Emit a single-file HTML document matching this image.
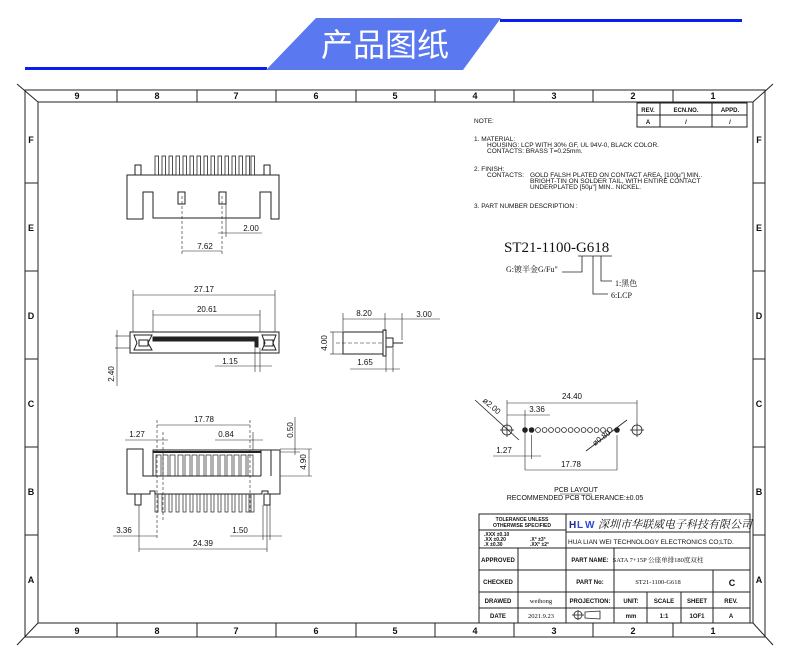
<!DOCTYPE html>
<html><head><meta charset="utf-8"><style>
html,body{margin:0;padding:0;background:#fff;}
svg{display:block;}
text{font-family:"Liberation Sans","Noto Sans CJK SC",sans-serif;fill:#111;}
.s{font-family:"Liberation Serif","Noto Serif CJK SC",serif;}
</style></head><body>
<svg width="790" height="663" viewBox="0 0 790 663" xmlns="http://www.w3.org/2000/svg">
<!-- header -->
<rect x="25" y="67" width="242" height="3" fill="#0a1ef0"/>
<rect x="500" y="19" width="242" height="3" fill="#0a1ef0"/>
<polygon points="316,18 501,18 463,70 266,70" fill="#5a78f0"/>
<text x="385" y="56" font-size="32" style="fill:#fff" text-anchor="middle" font-family="Noto Sans CJK SC,sans-serif">产品图纸</text>

<g stroke="#222" fill="none" stroke-width="1">
<rect x="25" y="90" width="740" height="547"/>
<rect x="38" y="102" width="715" height="521"/>
<line x1="17" y1="84" x2="38" y2="102"/><line x1="773" y1="84" x2="753" y2="102"/>
<line x1="17" y1="645" x2="38" y2="623"/><line x1="773" y1="645" x2="753" y2="623"/>
<g>
<line x1="117" y1="90" x2="117" y2="102"/><line x1="197" y1="90" x2="197" y2="102"/><line x1="276" y1="90" x2="276" y2="102"/><line x1="356" y1="90" x2="356" y2="102"/><line x1="435" y1="90" x2="435" y2="102"/><line x1="514" y1="90" x2="514" y2="102"/><line x1="593" y1="90" x2="593" y2="102"/><line x1="673" y1="90" x2="673" y2="102"/>
<line x1="117" y1="623" x2="117" y2="637"/><line x1="197" y1="623" x2="197" y2="637"/><line x1="276" y1="623" x2="276" y2="637"/><line x1="356" y1="623" x2="356" y2="637"/><line x1="435" y1="623" x2="435" y2="637"/><line x1="514" y1="623" x2="514" y2="637"/><line x1="593" y1="623" x2="593" y2="637"/><line x1="673" y1="623" x2="673" y2="637"/>
<line x1="25" y1="183" x2="38" y2="183"/><line x1="25" y1="271" x2="38" y2="271"/><line x1="25" y1="359" x2="38" y2="359"/><line x1="25" y1="447" x2="38" y2="447"/><line x1="25" y1="535" x2="38" y2="535"/>
<line x1="753" y1="183" x2="765" y2="183"/><line x1="753" y1="271" x2="765" y2="271"/><line x1="753" y1="359" x2="765" y2="359"/><line x1="753" y1="447" x2="765" y2="447"/><line x1="753" y1="535" x2="765" y2="535"/>
</g>
<rect x="637" y="103" width="110" height="24"/>
<line x1="637" y1="115" x2="747" y2="115"/><line x1="660" y1="103" x2="660" y2="127"/><line x1="712" y1="103" x2="712" y2="127"/>
<rect x="479" y="514" width="271" height="109"/>
<line x1="479" y1="530" x2="566" y2="530"/>
<line x1="479" y1="548" x2="750" y2="548"/>
<line x1="566" y1="532" x2="750" y2="532"/>
<line x1="479" y1="570" x2="750" y2="570"/>
<line x1="479" y1="592" x2="750" y2="592"/>
<line x1="479" y1="608" x2="750" y2="608"/>
<line x1="566" y1="514" x2="566" y2="623"/>
<line x1="518" y1="548" x2="518" y2="623"/>
<line x1="614" y1="548" x2="614" y2="623"/>
<line x1="647" y1="592" x2="647" y2="623"/>
<line x1="681" y1="592" x2="681" y2="623"/>
<line x1="713" y1="570" x2="713" y2="623"/>
</g>

<g font-size="9" font-weight="bold" text-anchor="middle">
<text x="77" y="99">9</text><text x="157" y="99">8</text><text x="236" y="99">7</text><text x="316" y="99">6</text><text x="395" y="99">5</text><text x="475" y="99">4</text><text x="554" y="99">3</text><text x="633" y="99">2</text><text x="713" y="99">1</text>
<text x="77" y="634">9</text><text x="157" y="634">8</text><text x="236" y="634">7</text><text x="316" y="634">6</text><text x="395" y="634">5</text><text x="475" y="634">4</text><text x="554" y="634">3</text><text x="633" y="634">2</text><text x="713" y="634">1</text>
<text x="31" y="143">F</text><text x="31" y="231">E</text><text x="31" y="319">D</text><text x="31" y="407">C</text><text x="31" y="495">B</text><text x="31" y="583">A</text>
<text x="759" y="143">F</text><text x="759" y="231">E</text><text x="759" y="319">D</text><text x="759" y="407">C</text><text x="759" y="495">B</text><text x="759" y="583">A</text>
</g>
<g font-size="6" font-weight="bold" text-anchor="middle">
<text x="648" y="112">REV.</text><text x="686" y="112">ECN.NO.</text><text x="730" y="112">APPD.</text>
<text x="648" y="124">A</text><text x="686" y="124">/</text><text x="730" y="124">/</text>
</g>

<g font-size="6.5">
<text x="474" y="123">NOTE:</text>
<text x="474" y="141">1. MATERIAL:</text>
<text x="487" y="147">HOUSING: LCP WITH 30% GF, UL 94V-0, BLACK COLOR.</text>
<text x="487" y="153">CONTACTS: BRASS T=0.25mm.</text>
<text x="474" y="171">2. FINISH:</text>
<text x="487" y="177">CONTACTS:</text>
<text x="530" y="177">GOLD FALSH PLATED ON CONTACT AREA, [100μ"] MIN..</text>
<text x="530" y="183">BRIGHT-TIN ON SOLDER TAIL, WITH ENTIRE CONTACT</text>
<text x="530" y="189">UNDERPLATED [50μ"] MIN.. NICKEL.</text>
<text x="474" y="208">3. PART NUMBER DESCRIPTION :</text>
</g>
<text x="504" y="252" class="s" font-size="15">ST21-1100-G618</text>
<text x="506" y="272" class="s" font-size="8">G:镀半金G/Fu"</text>
<text x="615" y="286" class="s" font-size="8">1:黑色</text>
<text x="611" y="298" class="s" font-size="8">6:LCP</text>
<g stroke="#222" fill="none" stroke-width="0.8">
<polyline points="562,272 582,272 582,256"/>
<polyline points="593,256 593,294 608,294"/>
<polyline points="601,256 601,281 612,281"/>
<line x1="578" y1="256" x2="612" y2="256"/>
</g>

<g font-size="5" font-weight="bold" text-anchor="middle">
<text x="522" y="521">TOLERANCE UNLESS</text><text x="522" y="527">OTHERWISE SPECIFIED</text>
</g>
<g font-size="5" font-weight="bold">
<text x="484" y="536">.XXX ±0.10</text><text x="484" y="541">.XX  ±0.20</text><text x="484" y="546">.X   ±0.30</text>
<text x="530" y="541">.X°  ±3°</text><text x="530" y="546">.XX° ±2°</text>
</g>
<text x="569" y="528" font-size="10" font-weight="bold" style="fill:#1e2a90">H</text>
<text x="577" y="528" font-size="10" font-weight="bold" style="fill:#2a4ad8">L</text>
<text x="585" y="528" font-size="10" font-weight="bold" style="fill:#2a4ad8">W</text>
<text x="598" y="528" font-size="11" class="s" font-style="italic">深圳市华联威电子科技有限公司</text>
<text x="568" y="544" font-size="6.5">HUA LIAN WEI TECHNOLOGY ELECTRONICS CO;LTD.</text>
<g font-size="6" font-weight="bold" text-anchor="middle">
<text x="498" y="562">APPROVED</text>
<text x="498" y="584">CHECKED</text>
<text x="498" y="603">DRAWED</text>
<text x="498" y="618">DATE</text>
<text x="590" y="562">PART NAME:</text>
<text x="590" y="584">PART No:</text>
<text x="590" y="603">PROJECTION:</text>
<text x="631" y="603">UNIT:</text><text x="664" y="603">SCALE</text><text x="697" y="603">SHEET</text><text x="731" y="603">REV.</text>
<text x="631" y="618">mm</text><text x="664" y="618">1:1</text><text x="697" y="618">1OF1</text><text x="731" y="618">A</text>
</g>
<text x="732" y="586" font-size="9" font-weight="bold" text-anchor="middle">C</text>
<g class="s" font-size="6.5" text-anchor="middle">
<text x="658" y="562" class="s">SATA 7+15P 公座单排180度双柱</text>
<text x="658" y="584" class="s">ST21-1100-G618</text>
<text x="541" y="603" class="s">weihong</text>
<text x="541" y="618" class="s">2021.9.23</text>
</g>
<g stroke="#222" fill="none" stroke-width="0.8">
<circle cx="578" cy="615" r="4"/><line x1="572" y1="615" x2="584" y2="615"/><line x1="578" y1="610" x2="578" y2="620"/>
<polygon points="585,612 600,611 600,619 585,618"/>
</g>

<!-- TOP VIEW -->
<g stroke="#222" fill="none" stroke-width="1">
<path d="M127,175 H279 V219 H271 V192 H260 V218 H153 V192 H143 V219 H127 Z"/>
<rect x="135" y="165" width="6" height="10"/><rect x="264" y="165" width="6" height="10"/>
<rect x="178" y="192" width="7" height="12"/><rect x="219" y="192" width="7" height="12"/>
</g>
<g fill="#fff" stroke="#222" stroke-width="0.8">
<rect x="155" y="156" width="3.5" height="19"/><rect x="162" y="156" width="3.5" height="19"/><rect x="169" y="156" width="3.5" height="19"/><rect x="176" y="156" width="3.5" height="19"/><rect x="183" y="156" width="3.5" height="19"/><rect x="190" y="156" width="3.5" height="19"/><rect x="197" y="156" width="3.5" height="19"/><rect x="204" y="156" width="3.5" height="19"/><rect x="211" y="156" width="3.5" height="19"/><rect x="218" y="156" width="3.5" height="19"/><rect x="225" y="156" width="3.5" height="19"/><rect x="232" y="156" width="3.5" height="19"/><rect x="239" y="156" width="3.5" height="19"/><rect x="246" y="156" width="3.5" height="19"/><rect x="251" y="156" width="3.5" height="19"/>
</g>
<g stroke="#222" fill="none" stroke-width="0.6">
<line x1="182" y1="196" x2="182" y2="255" stroke-dasharray="3,2"/>
<line x1="222" y1="196" x2="222" y2="255" stroke-dasharray="3,2"/>
<line x1="226" y1="200" x2="226" y2="237"/>
<line x1="218" y1="233" x2="262" y2="233"/>
<line x1="182" y1="251" x2="222" y2="251"/>
<line x1="133" y1="290" x2="133" y2="332"/><line x1="275" y1="290" x2="275" y2="332"/>
<line x1="133" y1="295" x2="275" y2="295"/>
<line x1="153" y1="310" x2="153" y2="332"/><line x1="260" y1="310" x2="260" y2="332"/>
<line x1="153" y1="315" x2="260" y2="315"/>
<line x1="115" y1="336" x2="130" y2="336"/><line x1="115" y1="348" x2="130" y2="348"/>
<line x1="117" y1="330" x2="117" y2="386"/>
<line x1="255" y1="348" x2="255" y2="372"/><line x1="260" y1="348" x2="260" y2="372"/>
<line x1="215" y1="366" x2="272" y2="366"/>
</g>
<g font-size="8" text-anchor="middle">
<text x="251" y="231">2.00</text>
<text x="205" y="249">7.62</text>
<text x="204" y="292">27.17</text>
<text x="207" y="312">20.61</text>
<text x="230" y="364">1.15</text>
<text x="114" y="374" transform="rotate(-90 114 374)">2.40</text>
</g>
<g stroke="#222" fill="none" stroke-width="1">
<rect x="130" y="332" width="149" height="21"/>
<path d="M153,337 H258 V347 H255 V341 H153 Z" fill="#222"/>
<polygon points="134,335 152,335 148,343 152,350 134,350 137,343"/>
<polygon points="262,335 276,335 273,343 276,350 262,350 265,343"/>
<rect x="139" y="340" width="9" height="6"/><rect x="264" y="340" width="9" height="6"/>
</g>
<!-- SIDE VIEW -->
<g stroke="#222" fill="none" stroke-width="1">
<rect x="343" y="332" width="40" height="22"/>
<rect x="383" y="330" width="3" height="26"/>
<rect x="386" y="338" width="7" height="9"/>
<line x1="393" y1="343" x2="403" y2="343"/>
</g>
<g stroke="#222" fill="none" stroke-width="0.6">
<line x1="336" y1="343" x2="383" y2="343" stroke-dasharray="4,2"/>
<line x1="343" y1="313" x2="343" y2="331"/><line x1="385" y1="313" x2="385" y2="331"/>
<line x1="343" y1="319" x2="385" y2="319"/>
<line x1="402" y1="313" x2="402" y2="340"/>
<line x1="385" y1="319" x2="440" y2="319"/>
<line x1="330" y1="332" x2="343" y2="332"/><line x1="330" y1="354" x2="343" y2="354"/><line x1="333" y1="332" x2="333" y2="354"/>
<line x1="386" y1="356" x2="386" y2="372"/><line x1="393" y1="348" x2="393" y2="372"/>
<line x1="350" y1="369" x2="400" y2="369"/>
</g>
<g font-size="8" text-anchor="middle">
<text x="364" y="316">8.20</text><text x="424" y="317">3.00</text>
<text x="365" y="365">1.65</text>
<text x="327" y="343" transform="rotate(-90 327 343)">4.00</text>
</g>

<!-- BOTTOM VIEW -->
<g stroke="#222" fill="none" stroke-width="1">
<path d="M127,449 H143 V476 H153 V450 H280 V494 H268 V491 H262 V494 H155 V491 H150 V494 H127 Z"/>
<line x1="153" y1="476" x2="261" y2="476"/>
<line x1="261" y1="450" x2="261" y2="476"/><line x1="271" y1="450" x2="271" y2="476"/>
<rect x="135" y="494" width="6" height="11"/><rect x="264" y="494" width="6" height="11"/>
</g>
<g stroke="#222" fill="none" stroke-width="0.7">
<line x1="153" y1="452" x2="261" y2="452" stroke-width="2"/>
<rect x="156" y="455" width="5" height="21"/><rect x="163" y="455" width="5" height="21"/><rect x="170" y="455" width="5" height="21"/><rect x="178" y="455" width="5" height="21"/><rect x="185" y="455" width="5" height="21"/><rect x="192" y="455" width="5" height="21"/><rect x="199" y="455" width="5" height="21"/><rect x="206" y="455" width="5" height="21"/><rect x="213" y="455" width="5" height="21"/><rect x="220" y="455" width="5" height="21"/><rect x="227" y="455" width="5" height="21"/><rect x="234" y="455" width="5" height="21"/><rect x="241" y="455" width="5" height="21"/><rect x="248" y="455" width="5" height="21"/>
<rect x="155" y="494" width="3" height="18"/><rect x="162" y="494" width="3" height="18"/><rect x="169" y="494" width="3" height="18"/><rect x="176" y="494" width="3" height="18"/><rect x="183" y="494" width="3" height="18"/><rect x="190" y="494" width="3" height="18"/><rect x="197" y="494" width="3" height="18"/><rect x="204" y="494" width="3" height="18"/><rect x="211" y="494" width="3" height="18"/><rect x="218" y="494" width="3" height="18"/><rect x="225" y="494" width="3" height="18"/><rect x="232" y="494" width="3" height="18"/><rect x="239" y="494" width="3" height="18"/><rect x="246" y="494" width="3" height="18"/><rect x="251" y="494" width="3" height="18"/>
</g>
<g stroke="#222" fill="none" stroke-width="0.6">
<line x1="157" y1="420" x2="157" y2="540" stroke-dasharray="3,2"/>
<line x1="163" y1="432" x2="163" y2="520" stroke-dasharray="3,2"/>
<line x1="250" y1="420" x2="250" y2="515" stroke-dasharray="3,2"/>
<line x1="253" y1="432" x2="253" y2="450"/>
<line x1="157" y1="425" x2="250" y2="425"/>
<line x1="125" y1="440" x2="168" y2="440"/>
<line x1="215" y1="440" x2="263" y2="440"/>
<line x1="295" y1="417" x2="295" y2="455"/>
<line x1="280" y1="449" x2="312" y2="449"/><line x1="280" y1="452" x2="300" y2="452"/><line x1="280" y1="476" x2="312" y2="476"/>
<line x1="309" y1="449" x2="309" y2="476"/>
<line x1="139" y1="505" x2="139" y2="552"/><line x1="267" y1="505" x2="267" y2="552"/>
<line x1="263" y1="505" x2="263" y2="540"/><line x1="270" y1="505" x2="270" y2="540"/>
<line x1="113" y1="536" x2="157" y2="536"/>
<line x1="230" y1="536" x2="282" y2="536"/>
<line x1="139" y1="549" x2="267" y2="549"/>
</g>
<g font-size="8" text-anchor="middle">
<text x="204" y="422">17.78</text>
<text x="137" y="437">1.27</text>
<text x="226" y="437">0.84</text>
<text x="293" y="430" transform="rotate(-90 293 430)">0.50</text>
<text x="306" y="462" transform="rotate(-90 306 462)">4.90</text>
<text x="124" y="533">3.36</text>
<text x="240" y="533">1.50</text>
<text x="203" y="546">24.39</text>
</g>

<!-- PCB LAYOUT -->
<g stroke="#222" fill="none" stroke-width="0.8">
<circle cx="507" cy="430" r="5"/><line x1="500" y1="430" x2="514" y2="430"/><line x1="507" y1="423" x2="507" y2="437"/>
<circle cx="637" cy="430" r="5"/><line x1="630" y1="430" x2="644" y2="430"/><line x1="637" y1="423" x2="637" y2="437"/>
<circle cx="525" cy="430" r="2.4" fill="#222"/><circle cx="531.6" cy="430" r="2.4" fill="#222"/><circle cx="538" cy="430" r="2.4"/><circle cx="544.6" cy="430" r="2.4"/><circle cx="551" cy="430" r="2.4"/><circle cx="557.6" cy="430" r="2.4"/><circle cx="564" cy="430" r="2.4"/><circle cx="570.6" cy="430" r="2.4"/><circle cx="577" cy="430" r="2.4"/><circle cx="583.6" cy="430" r="2.4"/><circle cx="590" cy="430" r="2.4"/><circle cx="596.6" cy="430" r="2.4"/><circle cx="603" cy="430" r="2.4"/><circle cx="609.6" cy="430" r="2.4"/><circle cx="617" cy="430" r="2.4" fill="#222"/>
<line x1="475" y1="400" x2="519" y2="440"/>
<line x1="586" y1="451" x2="627" y2="420"/>
</g>
<g stroke="#222" fill="none" stroke-width="0.6">
<line x1="507" y1="400" x2="507" y2="423"/><line x1="637" y1="400" x2="637" y2="423"/>
<line x1="507" y1="403" x2="637" y2="403"/>
<line x1="525" y1="410" x2="525" y2="470"/><line x1="531.6" y1="435" x2="531.6" y2="459"/><line x1="617" y1="435" x2="617" y2="470"/>
<line x1="507" y1="415" x2="550" y2="415"/>
<line x1="493" y1="456" x2="541" y2="456"/>
<line x1="525" y1="470" x2="617" y2="470"/>
<line x1="560" y1="494" x2="592" y2="494"/>
</g>
<g font-size="8" text-anchor="middle">
<text x="572" y="399">24.40</text>
<text x="537" y="412">3.36</text>
<text x="504" y="453">1.27</text>
<text x="571" y="467">17.78</text>
<text x="490" y="408" transform="rotate(40 490 408)">ø2.00</text>
<text x="603" y="440" transform="rotate(-37 603 440)">ø0.80</text>
<text x="576" y="492" font-size="7">PCB LAYOUT</text>
<text x="575" y="500" font-size="7">RECOMMENDED PCB TOLERANCE:±0.05</text>
</g>
</svg>
</body></html>
